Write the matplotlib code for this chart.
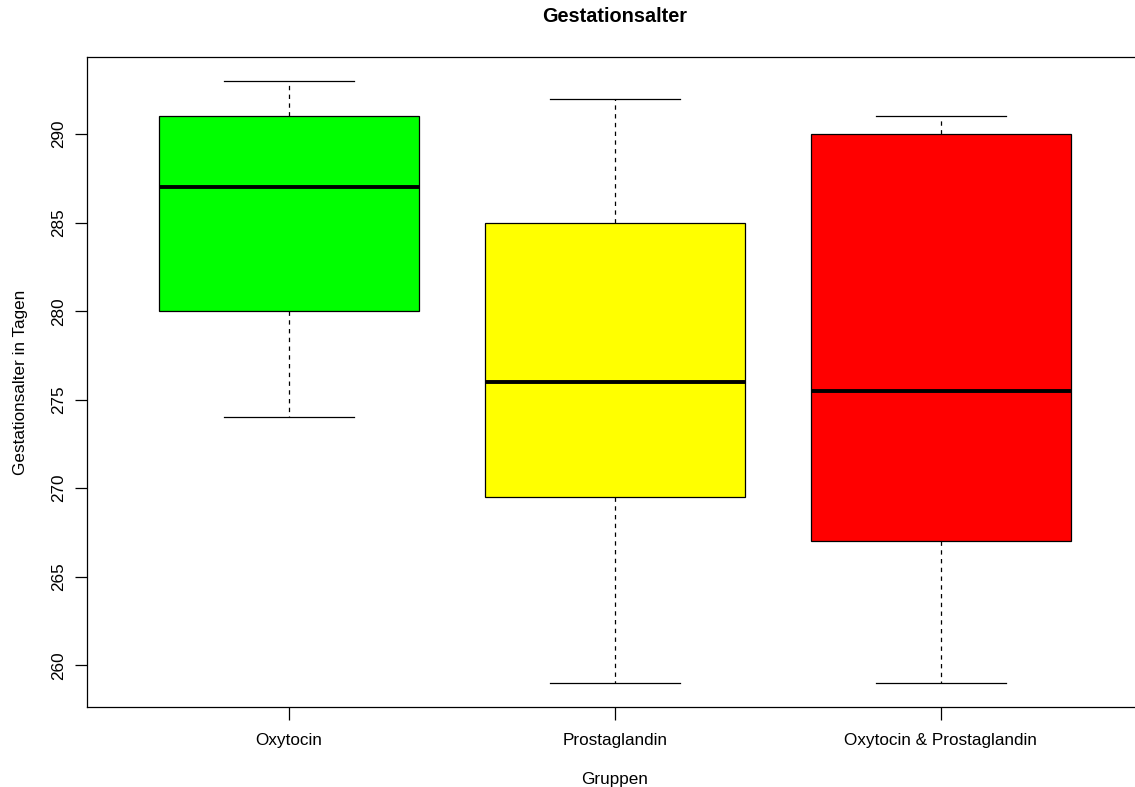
import matplotlib
matplotlib.use("Agg")
import matplotlib.pyplot as plt

plt.rcParams['font.family'] = ['Liberation Sans', 'DejaVu Sans']

groups = ['Oxytocin', 'Prostaglandin', 'Oxytocin & Prostaglandin']
whislo = [274, 259, 259]
q1 = [280, 269.5, 267]
med = [287, 276, 275.5]
q3 = [291, 285, 290]
whishi = [293, 292, 291]
colors = ['#00ff00', '#ffff00', '#ff0000']

stats = []
for i, g in enumerate(groups):
    stats.append({'label': g, 'whislo': whislo[i], 'q1': q1[i], 'med': med[i],
                  'q3': q3[i], 'whishi': whishi[i], 'fliers': []})

fig = plt.figure(figsize=(11.35, 7.87), dpi=100)
ax = fig.add_axes([87 / 1135, 1 - 707 / 787, (1143 - 87) / 1135, (707 - 57) / 787])

bp = ax.bxp(stats, positions=[1, 2, 3], widths=0.8, patch_artist=True,
            showfliers=False, capwidths=0.4,
            boxprops=dict(edgecolor='black', linewidth=0.9),
            medianprops=dict(color='black', linewidth=2.8),
            whiskerprops=dict(color='black', linestyle=(0, (3.5, 3.5)), linewidth=0.9),
            capprops=dict(color='black', linewidth=0.9))
for patch, c in zip(bp['boxes'], colors):
    patch.set_facecolor(c)

ax.set_xlim(0.38, 3.62)
ax.set_ylim(257.64, 294.36)
ax.set_yticks([260, 265, 270, 275, 280, 285, 290])
ax.set_xticks([1, 2, 3])
ax.set_xticklabels(groups)
for lbl in ax.get_yticklabels():
    lbl.set_rotation(90)
    lbl.set_va('center')
ax.tick_params(axis='both', direction='out', length=9, width=0.9, labelsize=12.3)
ax.tick_params(axis='x', pad=10)
ax.tick_params(axis='y', pad=6)
for s in ax.spines.values():
    s.set_linewidth(0.9)

ax.set_xlabel('Gruppen', fontsize=12.3, labelpad=17)
ax.set_ylabel('Gestationsalter in Tagen', fontsize=12.3, labelpad=17)
fig.text(615 / 1135, 1 - 17 / 787, 'Gestationsalter', ha='center', va='center',
         fontsize=14.3, fontweight='bold')

fig.savefig('out.png', dpi=100)
